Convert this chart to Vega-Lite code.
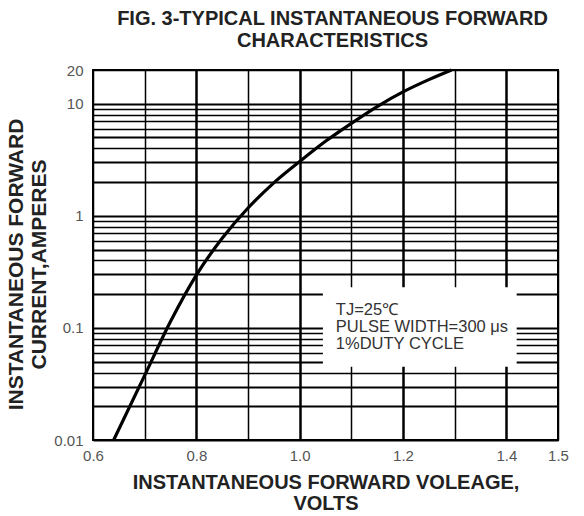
{
  "$schema": "https://vega.github.io/schema/vega-lite/v6.json",
  "autosize": "none",
  "width": 465,
  "height": 370,
  "padding": {"left": 93, "top": 70, "right": 26, "bottom": 76},
  "background": "white",
  "config": {"view": {"stroke": "black", "strokeWidth": 2}, "font": "Liberation Sans"},
  "title": {
    "text": ["FIG. 3-TYPICAL INSTANTANEOUS FORWARD", "CHARACTERISTICS"],
    "font": "Liberation Sans", "fontSize": 20, "fontWeight": "bold", "color": "#222",
    "anchor": "middle", "frame": "group", "offset": 12, "lineHeight": 22, "dx": 7
  },
  "datasets": {
    "curve": [
      {"v": 0.64, "i": 0.01},
      {"v": 0.70, "i": 0.0377},
      {"v": 0.75, "i": 0.114},
      {"v": 0.80, "i": 0.296},
      {"v": 0.85, "i": 0.631},
      {"v": 0.90, "i": 1.175},
      {"v": 0.95, "i": 1.97},
      {"v": 1.00, "i": 3.05},
      {"v": 1.05, "i": 4.62},
      {"v": 1.10, "i": 6.68},
      {"v": 1.15, "i": 9.44},
      {"v": 1.20, "i": 12.74},
      {"v": 1.25, "i": 16.4},
      {"v": 1.294, "i": 20}
    ],
    "note": [{"v": 1.045, "v2": 1.42, "i": 0.045, "i2": 0.23}],
    "label": [{"v": 1.07, "i": 0.17, "text": "TJ=25℃\nPULSE WIDTH=300 μs\n1%DUTY CYCLE"}]
  },
  "encoding": {
    "x": {
      "field": "v", "type": "quantitative",
      "scale": {"domain": [0.6, 1.5], "nice": false, "zero": false},
      "axis": {
        "values": [0.6, 0.7, 0.8, 0.9, 1.0, 1.1, 1.2, 1.3, 1.4, 1.5],
        "grid": true, "gridColor": "black", "gridOpacity": 1,
        "gridWidth": {"condition": {"test": "indexof([0.8, 1, 1.2, 1.4], datum.value) >= 0", "value": 2.5}, "value": 1.5},
        "domain": false, "ticks": false,
        "labelExpr": "indexof([0.6, 0.8, 1, 1.2, 1.4, 1.5], datum.value) >= 0 ? format(datum.value, '.1f') : ''",
        "labelFont": "Liberation Sans", "labelFontSize": 15, "labelColor": "#555",
        "labelPadding": 8, "labelFlush": false, "labelOverlap": false, "labelBound": false,
        "title": ["INSTANTANEOUS FORWARD VOLEAGE,", "VOLTS"],
        "titleFont": "Liberation Sans", "titleFontSize": 20, "titleFontWeight": "bold", "titleColor": "#222",
        "titleLineHeight": 21, "titlePadding": 9
      }
    },
    "y": {
      "field": "i", "type": "quantitative",
      "scale": {"type": "log", "domain": [0.01, 20], "nice": false},
      "axis": {
        "values": [0.01, 0.02, 0.03, 0.04, 0.05, 0.06, 0.07, 0.08, 0.09, 0.1, 0.2, 0.3, 0.4, 0.5, 0.6, 0.7, 0.8, 0.9, 1, 2, 3, 4, 5, 6, 7, 8, 9, 10, 20],
        "grid": true, "gridColor": "black", "gridOpacity": 1,
        "gridWidth": {"condition": {"test": "indexof([0.01, 0.02, 0.03, 0.05, 0.1, 0.2, 0.3, 0.5, 1, 2, 3, 5, 10], datum.value) >= 0", "value": 2.2}, "value": 1.4},
        "domain": false, "ticks": false,
        "labelExpr": "indexof([0.01, 0.1, 1, 10, 20], datum.value) >= 0 ? format(datum.value, '~g') : ''",
        "labelFont": "Liberation Sans", "labelFontSize": 15, "labelColor": "#555",
        "labelPadding": 10, "labelOverlap": false, "labelBound": false, "labelFlush": false,
        "title": ["INSTANTANEOUS FORWARD", "CURRENT,AMPERES"],
        "titleFont": "Liberation Sans", "titleFontSize": 21, "titleFontWeight": "bold", "titleColor": "#222",
        "titleLineHeight": 23, "titleAngle": -90, "titleAlign": "center", "titleBaseline": "bottom",
        "titleX": -67, "titleY": 194
      }
    }
  },
  "layer": [
    {
      "data": {"name": "note"},
      "mark": {"type": "rect", "fill": "white", "stroke": null},
      "encoding": {"x2": {"field": "v2"}, "y2": {"field": "i2"}}
    },
    {
      "data": {"name": "curve"},
      "mark": {"type": "line", "color": "black", "strokeWidth": 3.2, "interpolate": "monotone"}
    },
    {
      "data": {"name": "label"},
      "mark": {"type": "text", "align": "left", "baseline": "top", "font": "Liberation Sans", "fontSize": 16.5, "lineHeight": 17, "color": "#333", "lineBreak": "\n"},
      "encoding": {"text": {"field": "text"}}
    }
  ]
}
